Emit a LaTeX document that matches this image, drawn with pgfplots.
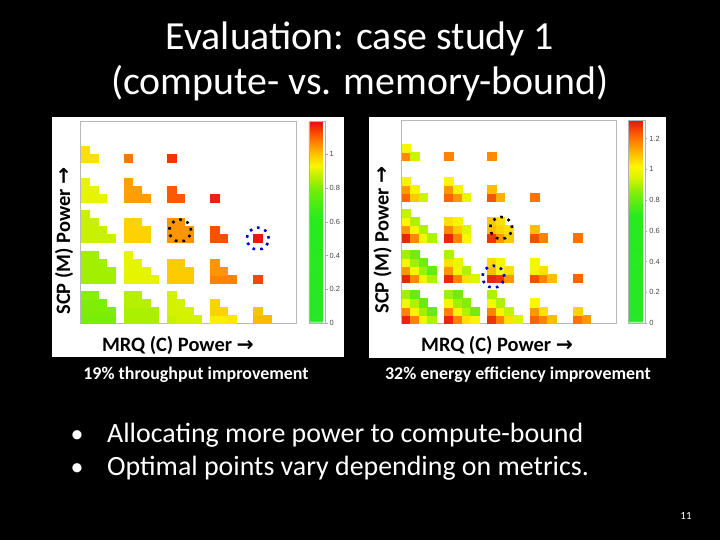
\documentclass[border=0pt]{standalone}
\usepackage{fontspec}
\setmainfont{Carlito}
\newfontfamily\arialfont{Liberation Sans}
\newfontfamily\arrowfont{DejaVu Sans}
\usepackage{pgfplots}
\pgfplotsset{compat=1.18}
\usepackage{pgfplotstable}

% cell centres (x = 5*MRQ level + sub step, y = 5*SCP level + sub step), c = value
\pgfplotstableread{
x y c
0.5 0.5 0.79
1.5 0.5 0.79
2.5 0.5 0.79
3.5 0.5 0.79
0.5 1.5 0.80
1.5 1.5 0.80
2.5 1.5 0.80
3.5 1.5 0.80
0.5 2.5 0.80
1.5 2.5 0.80
2.5 2.5 0.80
0.5 3.5 0.81
1.5 3.5 0.81
5.5 0.5 0.85
6.5 0.5 0.85
7.5 0.5 0.85
8.5 0.5 0.85
5.5 1.5 0.85
6.5 1.5 0.85
7.5 1.5 0.85
8.5 1.5 0.85
5.5 2.5 0.86
6.5 2.5 0.86
7.5 2.5 0.86
5.5 3.5 0.86
6.5 3.5 0.86
10.5 0.5 0.88
11.5 0.5 0.89
12.5 0.5 0.89
13.5 0.5 0.89
10.5 1.5 0.89
11.5 1.5 0.89
12.5 1.5 0.89
10.5 2.5 0.89
11.5 2.5 0.89
10.5 3.5 0.89
15.5 0.5 0.94
16.5 0.5 0.94
17.5 0.5 0.95
15.5 1.5 0.98
16.5 1.5 0.98
15.5 2.5 0.98
20.5 0.5 1.01
21.5 0.5 1.01
20.5 1.5 1.00
0.5 5.5 0.84
1.5 5.5 0.84
2.5 5.5 0.84
3.5 5.5 0.84
0.5 6.5 0.84
1.5 6.5 0.84
2.5 6.5 0.84
3.5 6.5 0.84
0.5 7.5 0.84
1.5 7.5 0.84
2.5 7.5 0.84
0.5 8.5 0.84
1.5 8.5 0.84
5.5 5.5 0.91
6.5 5.5 0.91
7.5 5.5 0.91
8.5 5.5 0.91
5.5 6.5 0.91
6.5 6.5 0.91
7.5 6.5 0.91
5.5 7.5 0.91
6.5 7.5 0.91
5.5 8.5 0.91
10.5 5.5 0.99
11.5 5.5 0.99
12.5 5.5 0.99
10.5 6.5 0.99
11.5 6.5 0.99
12.5 6.5 0.99
10.5 7.5 0.99
11.5 7.5 0.99
15.5 5.5 1.07
16.5 5.5 1.07
17.5 5.5 1.07
15.5 6.5 1.05
16.5 6.5 1.05
15.5 7.5 1.05
20.5 5.5 1.13
0.5 10.5 0.88
1.5 10.5 0.88
2.5 10.5 0.88
3.5 10.5 0.88
0.5 11.5 0.88
1.5 11.5 0.88
2.5 11.5 0.88
0.5 12.5 0.88
1.5 12.5 0.88
0.5 13.5 0.88
5.5 10.5 0.98
6.5 10.5 0.98
7.5 10.5 0.98
5.5 11.5 0.98
6.5 11.5 0.98
7.5 11.5 0.98
5.5 12.5 0.98
6.5 12.5 0.98
10.5 10.5 1.05
11.5 10.5 1.05
12.5 10.5 1.05
10.5 11.5 1.05
11.5 11.5 1.05
12.5 11.5 1.05
10.5 12.5 1.05
11.5 12.5 1.05
15.5 10.5 1.12
16.5 10.5 1.12
15.5 11.5 1.12
20.5 10.5 1.18
0.5 15.5 0.91
1.5 15.5 0.91
2.5 15.5 0.91
0.5 16.5 0.91
1.5 16.5 0.91
0.5 17.5 0.91
5.5 15.5 1.04
6.5 15.5 1.04
7.5 15.5 1.04
5.5 16.5 1.04
6.5 16.5 1.04
5.5 17.5 1.04
10.5 15.5 1.11
11.5 15.5 1.11
10.5 16.5 1.11
15.5 15.5 1.17
0.5 20.5 0.96
1.5 20.5 0.96
0.5 21.5 0.96
5.5 20.5 1.08
10.5 20.5 1.15
}\throughput

\pgfplotstableread{
x y c
0.5 0.5 1.30
1.5 0.5 1.18
2.5 0.5 1.00
3.5 0.5 0.90
0.5 1.5 1.18
1.5 1.5 1.00
2.5 1.5 0.88
3.5 1.5 0.80
0.5 2.5 1.00
1.5 2.5 0.90
2.5 2.5 0.80
0.5 3.5 0.88
1.5 3.5 0.80
5.5 0.5 1.30
6.5 0.5 1.18
7.5 0.5 1.05
8.5 0.5 1.00
5.5 1.5 1.18
6.5 1.5 1.00
7.5 1.5 0.90
8.5 1.5 0.82
5.5 2.5 1.00
6.5 2.5 0.88
7.5 2.5 0.85
5.5 3.5 0.88
6.5 3.5 0.82
10.5 0.5 1.28
11.5 0.5 1.18
12.5 0.5 1.05
13.5 0.5 0.95
10.5 1.5 1.18
11.5 1.5 1.00
12.5 1.5 0.92
10.5 2.5 1.02
11.5 2.5 0.90
10.5 3.5 0.90
15.5 0.5 1.22
16.5 0.5 1.18
17.5 0.5 1.10
15.5 1.5 1.15
16.5 1.5 1.05
15.5 2.5 1.02
20.5 0.5 1.20
21.5 0.5 1.15
20.5 1.5 1.07
0.5 5.5 1.30
1.5 5.5 1.17
2.5 5.5 1.00
3.5 5.5 0.90
0.5 6.5 1.15
1.5 6.5 1.00
2.5 6.5 0.88
3.5 6.5 0.80
0.5 7.5 1.00
1.5 7.5 0.88
2.5 7.5 0.82
0.5 8.5 0.88
1.5 8.5 0.82
5.5 5.5 1.30
6.5 5.5 1.18
7.5 5.5 1.05
8.5 5.5 0.95
5.5 6.5 1.15
6.5 6.5 1.00
7.5 6.5 0.90
5.5 7.5 1.05
6.5 7.5 0.98
5.5 8.5 0.90
10.5 5.5 1.30
11.5 5.5 1.28
12.5 5.5 1.15
10.5 6.5 1.10
11.5 6.5 1.02
12.5 6.5 1.05
10.5 7.5 1.06
11.5 7.5 1.00
15.5 5.5 1.25
16.5 5.5 1.18
17.5 5.5 1.10
15.5 6.5 1.00
16.5 6.5 1.05
15.5 7.5 1.00
20.5 5.5 1.22
0.5 10.5 1.30
1.5 10.5 1.17
2.5 10.5 1.00
3.5 10.5 0.90
0.5 11.5 1.15
1.5 11.5 1.00
2.5 11.5 0.90
0.5 12.5 1.02
1.5 12.5 0.90
0.5 13.5 0.92
5.5 10.5 1.30
6.5 10.5 1.18
7.5 10.5 1.02
5.5 11.5 1.17
6.5 11.5 1.08
7.5 11.5 0.95
5.5 12.5 1.05
6.5 12.5 1.00
10.5 10.5 1.28
11.5 10.5 1.15
12.5 10.5 1.08
10.5 11.5 1.10
11.5 11.5 1.07
12.5 11.5 1.05
10.5 12.5 1.08
11.5 12.5 1.05
15.5 10.5 1.25
16.5 10.5 1.18
15.5 11.5 1.10
20.5 10.5 1.20
0.5 15.5 1.22
1.5 15.5 1.08
2.5 15.5 0.93
0.5 16.5 1.15
1.5 16.5 1.00
0.5 17.5 1.00
5.5 15.5 1.22
6.5 15.5 1.15
7.5 15.5 0.98
5.5 16.5 1.15
6.5 16.5 1.00
5.5 17.5 1.02
10.5 15.5 1.24
11.5 15.5 1.12
10.5 16.5 1.10
15.5 15.5 1.20
0.5 20.5 1.17
1.5 20.5 0.93
0.5 21.5 1.00
5.5 20.5 1.18
10.5 20.5 1.17
}\energy

\pgfplotsset{
  cellgrid/.style={
    scale only axis, xmin=0, xmax=25, ymin=0, ymax=25,
    xtick=\empty, ytick=\empty,
    axis line style={gray!55, line width=0.6bp},
    label style={font=\bfseries\fontsize{20.5}{22}\selectfont},
    xlabel={MRQ (C) Power {\arrowfont\bfseries →}},
    ylabel={SCP (M) Power {\arrowfont\bfseries →}},
    colorbar,
    colorbar style={
      at={(parent axis.south east)}, anchor=south west,
      scale only axis, width=16.7bp,
      axis line style={gray!60, line width=0.6bp},
      major tick length=2bp, tick align=outside, ytick pos=right,
      major tick style={gray!70},
      yticklabel style={font=\arialfont\fontsize{7.5}{8}\selectfont, text=gray!55!black, xshift=-1.5bp},
      /pgf/number format/assume math mode=true,
    },
  },
  cellmarks/.style={scatter, only marks, mark=square*,
    scatter/use mapped color={draw=mapped color, fill=mapped color},
    mark options={line width=0.3bp}},
  ring/.style={only marks, mark=o, mark size=11bp, point meta=none,
    mark options={draw=#1, line width=2.6bp, dash pattern=on 2.6bp off 5.1bp}},
}

\begin{document}
\begin{tikzpicture}
\fill[black] (0bp,0bp) rectangle (720bp,540bp);
\fill[white] (52bp,183bp) rectangle (344bp,423bp);
\fill[white] (369bp,181.5bp) rectangle (666bp,423bp);

\node[anchor=base, white, font=\fontsize{40}{46}\selectfont] at (360bp,490bp) {Evaluation: case study 1};
\node[anchor=base, white, font=\fontsize{40}{46}\selectfont] at (360bp,445bp) {(compute- vs. memory-bound)};

\begin{axis}[cellgrid, at={(80.7bp,216.7bp)}, width=216bp, height=201.6bp,
  point meta min=0, point meta max=1.19,
  colormap={tput}{rgb255(0pt)=(255,255,255); rgb255(1.5pt)=(40,230,40);
    rgb255(62pt)=(40,235,30); rgb255(78pt)=(110,238,10); rgb255(86pt)=(180,240,0);
    rgb255(93pt)=(250,245,0); rgb255(100pt)=(255,195,0); rgb255(107pt)=(255,130,0);
    rgb255(113pt)=(250,70,0); rgb255(119pt)=(230,15,15)},
  colorbar style={ytick={0,0.2,0.4,0.6,0.8,1}, xshift=3.6bp},
  xlabel style={at={(axis description cs:0.45,0)}, anchor=base, yshift=-28.7bp},
  ylabel style={at={(axis description cs:-0.0495,0.408)}, anchor=base},
]
\addplot[cellmarks, point meta=\thisrow{c}, mark size=4.03bp, mark options={xscale=1.072}] table[x=x, y=y] {\throughput};
\addplot[ring=black] coordinates {(11.5,11.5)};
\addplot[ring=blue!80!black] coordinates {(20.5,10.5)};
\end{axis}

\begin{axis}[cellgrid, at={(401.7bp,217bp)}, width=214.3bp, height=203bp,
  point meta min=0, point meta max=1.32,
  colormap={eff}{rgb255(0pt)=(255,255,255); rgb255(1.5pt)=(40,230,40);
    rgb255(70pt)=(40,235,30); rgb255(85pt)=(130,238,10); rgb255(95pt)=(220,245,0);
    rgb255(102pt)=(255,245,0); rgb255(112pt)=(255,175,0); rgb255(122pt)=(255,100,0);
    rgb255(132pt)=(230,20,15)},
  colorbar style={ytick={0,0.2,0.4,0.6,0.8,1,1.2}, xshift=4.2bp},
  xlabel style={at={(axis description cs:0.445,0)}, anchor=base, yshift=-28.7bp},
  ylabel style={at={(axis description cs:-0.0607,0.408)}, anchor=base},
]
\addplot[cellmarks, point meta=\thisrow{c}, mark size=4.06bp, mark options={xscale=1.055}] table[x=x, y=y] {\energy};
\addplot[ring=black] coordinates {(11.6,11.7)};
\addplot[ring=blue!80!black] coordinates {(10.7,5.7)};
\end{axis}

\node[anchor=base, white, font=\bfseries\fontsize{18}{21}\selectfont] at (196bp,160bp) {19\% throughput improvement};
\node[anchor=base, white, font=\bfseries\fontsize{18}{21}\selectfont] at (518bp,160bp) {32\% energy efficiency improvement};

\node[anchor=base, white, font=\fontsize{26}{30}\selectfont] at (77bp,97bp) {•};
\node[anchor=base west, inner sep=0pt, white, font=\fontsize{28}{33}\selectfont] at (107bp,97bp) {Allocating more power to compute-bound};
\node[anchor=base, white, font=\fontsize{26}{30}\selectfont] at (77bp,64bp) {•};
\node[anchor=base west, inner sep=0pt, white, font=\fontsize{28}{33}\selectfont] at (107bp,64bp) {Optimal points vary depending on metrics.};
\node[anchor=base, white, font=\fontsize{11}{13}\selectfont] at (686bp,21bp) {11};
\end{tikzpicture}
\end{document}
